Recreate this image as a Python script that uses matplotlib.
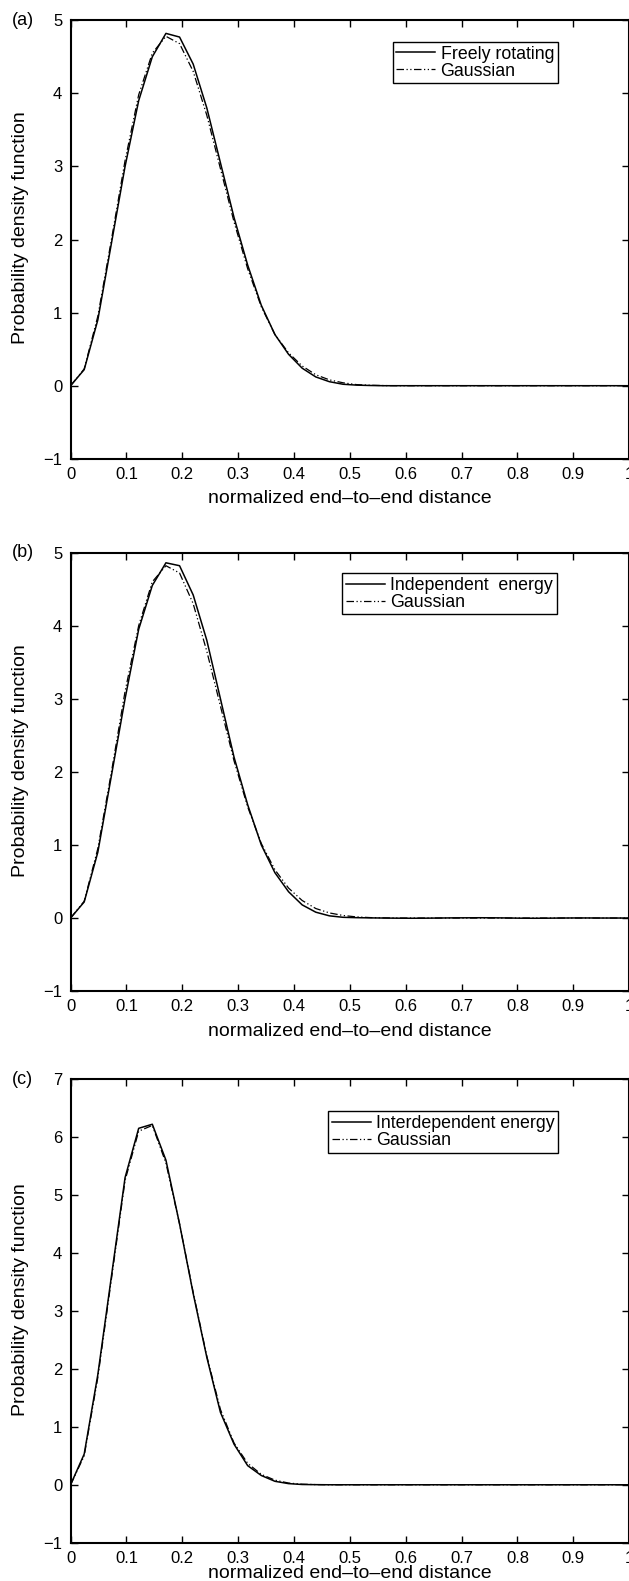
import matplotlib
matplotlib.use("Agg")
import matplotlib.pyplot as plt
import numpy as np

plt.rcParams['font.family'] = ['Liberation Sans', 'DejaVu Sans']
plt.rcParams['font.size'] = 12

# x grid: 42 points from 0 to 1
dist = np.linspace(0, 1, 42)

# (a) freely rotating chain vs gaussian
free_rot = [0, 0.22, 0.90, 1.95, 3.00, 3.90, 4.50, 4.82, 4.77, 4.40, 3.80, 3.05,
            2.30, 1.65, 1.10, 0.70, 0.43, 0.24, 0.12, 0.055, 0.02, 0.008, 0.003, 0,
            0, 0, 0, 0, 0, 0, 0, 0, 0, 0, 0, 0, 0, 0, 0, 0, 0, 0]
gauss_a = [0, 0.23, 0.95, 2.00, 3.08, 3.98, 4.55, 4.78, 4.68, 4.30, 3.70, 2.97,
           2.24, 1.60, 1.08, 0.70, 0.45, 0.27, 0.15, 0.08, 0.04, 0.015, 0.006, 0.002,
           0, 0, 0, 0, 0, 0, 0, 0, 0, 0, 0, 0, 0, 0, 0, 0, 0, 0]

# (b) independent energy vs gaussian
indep = [0, 0.22, 0.90, 1.95, 3.00, 3.95, 4.55, 4.86, 4.82, 4.42, 3.80, 3.00,
         2.20, 1.55, 1.00, 0.62, 0.36, 0.18, 0.08, 0.03, 0.01, 0.005, 0.002, 0,
         -0.002, -0.003, -0.002, 0, 0.002, 0.003, 0.004, 0.003, 0.001, -0.002, -0.003,
         -0.002, 0, 0.001, 0.001, 0, 0, 0]
gauss_b = [0, 0.23, 0.95, 2.00, 3.10, 4.00, 4.60, 4.82, 4.72, 4.30, 3.65, 2.90,
           2.15, 1.52, 1.02, 0.66, 0.41, 0.24, 0.13, 0.07, 0.035, 0.015, 0.006, 0.002,
           0, 0, 0, 0, 0, 0, 0, 0, 0, 0, 0, 0, 0, 0, 0, 0, 0, 0]

# (c) interdependent energy vs gaussian
interdep = [0, 0.53, 1.90, 3.60, 5.30, 6.15, 6.22, 5.60, 4.50, 3.30, 2.20, 1.25,
            0.70, 0.33, 0.16, 0.06, 0.02, 0.005, 0.002, 0, 0, 0, 0, 0,
            0, 0, 0, 0, 0, 0, 0, 0, 0, 0, 0, 0, 0, 0, 0, 0, 0, 0]
gauss_c = [0, 0.50, 1.85, 3.55, 5.25, 6.10, 6.20, 5.55, 4.50, 3.32, 2.22, 1.30,
           0.72, 0.37, 0.18, 0.08, 0.03, 0.01, 0.003, 0, 0, 0, 0, 0,
           0, 0, 0, 0, 0, 0, 0, 0, 0, 0, 0, 0, 0, 0, 0, 0, 0, 0]

xtick_labels = ['0', '0.1', '0.2', '0.3', '0.4', '0.5', '0.6', '0.7', '0.8', '0.9', '1']

panels = [
    ('(a)', free_rot, gauss_a, 'Freely rotating', (-1, 5), [0.1122, 0.7098, 0.888, 0.2774], (0.872, 0.950), 6, 0.526),
    ('(b)', indep, gauss_b, 'Independent  energy', (-1, 5), [0.1122, 0.3731, 0.888, 0.2774], (0.870, 0.953), 6, 0.526),
    ('(c)', interdep, gauss_c, 'Interdependent energy', (-1, 7), [0.1122, 0.0242, 0.888, 0.2933], (0.873, 0.930), -1, 0.524),
]

fig = plt.figure(figsize=(6.29, 15.81), dpi=100)

for tag, model, gauss, name, ylim, rect, legpos, xpad, ymid in panels:
    ax = fig.add_axes(rect)
    ax.plot(dist, model, color='black', lw=1.1, label=name)
    ax.plot(dist, gauss, color='black', lw=0.9, ls=(0, (6, 2, 1, 2, 1, 2)), label='Gaussian')
    ax.set_xlim(0, 1)
    ax.set_ylim(*ylim)
    ax.set_xticks(np.arange(0, 1.01, 0.1))
    ax.set_xticklabels(xtick_labels)
    ax.set_yticks(np.arange(ylim[0], ylim[1] + 1, 1))
    ax.tick_params(direction='in', top=True, right=True, length=5, width=1, pad=6)
    for sp in ax.spines.values():
        sp.set_linewidth(1.5)
    ax.set_xlabel('normalized end\u2013to\u2013end distance', fontsize=14, labelpad=xpad)
    ax.set_ylabel('Probability density function', fontsize=14)
    ax.yaxis.set_label_coords(-0.0736, ymid)
    leg = ax.legend(loc='upper right', bbox_to_anchor=legpos, borderaxespad=0,
                    fancybox=False, edgecolor='black', framealpha=1, fontsize=12.8,
                    handlelength=2.2, handletextpad=0.3, labelspacing=0.0,
                    borderpad=0.2)
    leg.get_frame().set_linewidth(1.0)
    fig.text(0.019, rect[1] + rect[3], tag, ha='left', va='center', fontsize=13)

fig.savefig('out.png', dpi=100)
